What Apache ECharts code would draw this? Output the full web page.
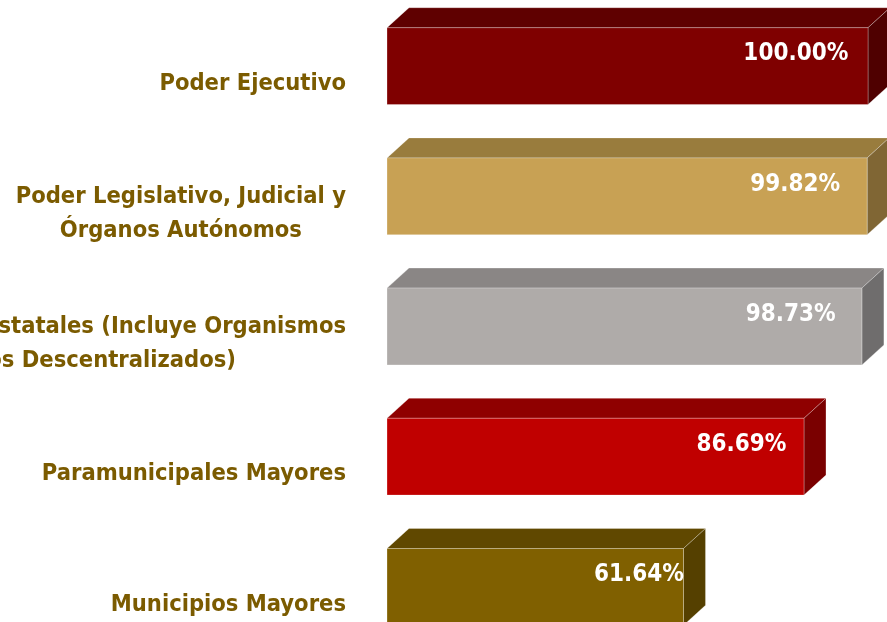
<!DOCTYPE html>
<html>
<head>
<meta charset="utf-8">
<script src="https://cdn.jsdelivr.net/npm/echarts@6/dist/echarts.min.js"></script>
<style>
  html, body { margin: 0; padding: 0; background: #fff; }
  #main { width: 887px; height: 622px; }
</style>
</head>
<body>
<div id="main"></div>
<script>
const categories = [
    'Poder Ejecutivo',
    'Poder Legislativo, Judicial y\nÓrganos Autónomos',
    'Entidades Paraestatales (Incluye Organismos\nPúblicos Descentralizados)',
    'Paramunicipales Mayores',
    'Municipios Mayores'
];
const values = [100.00, 99.82, 98.73, 86.69, 61.64];

// front / top / side shades per bar
const faces = [
    ['#7f0000', '#5f0000', '#4f0000'],
    ['#c8a154', '#997c3d', '#806634'],
    ['#afaba9', '#8a8685', '#6f6d6d'],
    ['#c00000', '#8f0000', '#7a0000'],
    ['#806000', '#604800', '#554000']
];

const DX = 22, DY = 20;
const labelFont = '"Liberation Sans Narrow", "DejaVu Sans Condensed", sans-serif';

function renderBar(params, api) {
    const idx = api.value(1);
    const val = api.value(0);
    const end = api.coord([val, idx]);
    const start = api.coord([0, idx]);
    const band = api.size([0, 1])[1];
    const h = band * 0.59;
    const x0 = start[0], x1 = end[0], yc = end[1];
    const top = yc - h / 2, bottom = yc + h / 2;
    const c = faces[idx];
    const edge = 'rgba(255,255,255,0.45)';
    return {
        type: 'group',
        children: [
            {
                type: 'polygon',
                shape: { points: [[x0, top], [x0 + DX, top - DY], [x1 + DX, top - DY], [x1, top]] },
                style: { fill: c[1], stroke: edge, lineWidth: 0.6 }
            },
            {
                type: 'polygon',
                shape: { points: [[x1, top], [x1 + DX, top - DY], [x1 + DX, bottom - DY], [x1, bottom]] },
                style: { fill: c[2], stroke: edge, lineWidth: 0.6 }
            },
            {
                type: 'rect',
                shape: { x: x0, y: top, width: x1 - x0, height: h },
                style: { fill: c[0], stroke: edge, lineWidth: 0.6 }
            },
            {
                type: 'text',
                x: x0 + (x1 - x0) * 0.85,
                y: yc - 12,
                style: {
                    text: val.toFixed(2) + '%',
                    fill: '#fff',
                    font: 'bold 24px ' + labelFont,
                    align: 'center',
                    verticalAlign: 'middle'
                }
            }
        ]
    };
}

const chart = echarts.init(document.getElementById('main'));
chart.setOption({
    animation: false,
    backgroundColor: '#fff',
    grid: {
        left: 387, right: 19, top: 1, height: 651,
        containLabel: false,
        outerBoundsMode: 'none'
    },
    xAxis: {
        type: 'value', min: 0, max: 100, show: false
    },
    yAxis: {
        type: 'category',
        inverse: true,
        data: categories,
        axisLine: { show: false },
        axisTick: { show: false },
        splitLine: { show: false },
        axisLabel: {
            margin: 41,
            hideOverlap: false,
            color: '#7b5b00',
            fontSize: 23.5,
            fontWeight: 'bold',
            fontFamily: labelFont,
            lineHeight: 34,
            padding: [35, 0, 0, 0],
            formatter: v => v.split('\n').map(s => '{c|' + s + '}').join('\n'),
            rich: {
                c: {
                    align: 'center',
                    color: '#7b5b00',
                    fontSize: 23.5,
                    fontWeight: 'bold',
                    fontFamily: labelFont,
                    lineHeight: 34
                }
            }
        }
    },
    series: [{
        type: 'custom',
        renderItem: renderBar,
        clip: false,
        encode: { x: 0, y: 1 },
        data: values.map((v, i) => [v, i])
    }]
});
</script>
</body>
</html>
